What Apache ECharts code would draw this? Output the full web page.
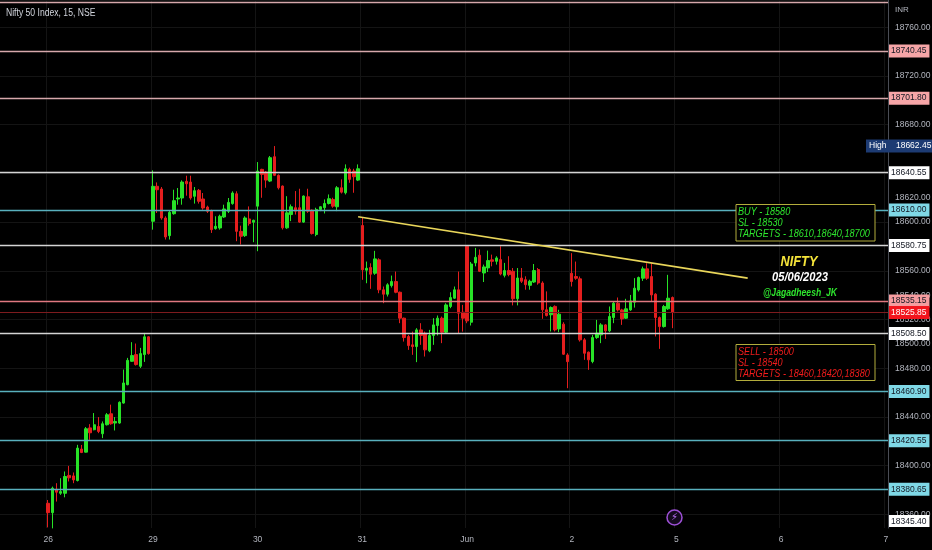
<!DOCTYPE html>
<html>
<head>
<meta charset="utf-8">
<script src="https://cdn.jsdelivr.net/npm/echarts@6/dist/echarts.min.js"></script>
<style>html,body{margin:0;padding:0;background:#000}#chart{width:932px;height:550px}</style>
</head>
<body>
<div id="chart"></div>
<script>
// time scale: day labels, 25 fifteen-minute bars per session
const dayNames = ['26', '29', '30', '31', 'Jun', '2', '5', '6', '7'];
const leadSlots = 11;
const slotsPerDay = 25;

// candles per session: [open, close, low, high]
const day26 = [
  [18369.1, 18361.4, 18349.3, 18371.8], [18361.4, 18381.5, 18348.5, 18382.8], [18380.6, 18378.2, 18370.5, 18385.6],
  [18377.3, 18378.7, 18376.0, 18389.7], [18377.3, 18391.1, 18374.0, 18395.2], [18392.0, 18390.0, 18387.0, 18399.8],
  [18391.6, 18388.3, 18385.6, 18394.4], [18387.8, 18414.4, 18387.0, 18417.1], [18413.6, 18410.8, 18410.3, 18417.0],
  [18411.1, 18430.3, 18410.8, 18431.7], [18431.0, 18427.0, 18421.2, 18434.1], [18429.5, 18433.6, 18429.0, 18443.2],
  [18432.2, 18428.1, 18426.7, 18439.9], [18426.2, 18434.4, 18422.6, 18436.3], [18433.6, 18441.8, 18433.0, 18443.2],
  [18442.6, 18434.4, 18433.6, 18450.1], [18435.0, 18436.3, 18428.9, 18439.9], [18435.0, 18452.0, 18434.4, 18452.8],
  [18451.4, 18467.9, 18450.9, 18478.9], [18466.5, 18486.5, 18466.0, 18488.5], [18485.7, 18490.4, 18485.2, 18501.4],
  [18491.2, 18483.0, 18482.2, 18500.3], [18481.6, 18492.0, 18480.2, 18496.7], [18491.2, 18505.8, 18485.2, 18509.0],
  [18505.8, 18492.0, 18491.2, 18506.3]
];
const day29 = [
  [18600.7, 18629.4, 18593.8, 18642.5], [18629.4, 18626.6, 18607.5, 18632.6], [18627.2, 18603.4, 18602.0, 18628.8],
  [18603.4, 18587.8, 18585.7, 18604.8], [18588.9, 18608.0, 18585.7, 18609.4], [18606.9, 18617.6, 18606.1, 18626.6],
  [18619.0, 18619.8, 18614.3, 18628.0], [18619.8, 18632.9, 18614.3, 18634.3], [18633.5, 18631.5, 18621.7, 18638.1],
  [18632.9, 18619.8, 18618.4, 18638.1], [18621.2, 18625.8, 18615.2, 18628.8], [18626.1, 18617.1, 18615.2, 18627.2],
  [18619.0, 18611.6, 18610.2, 18623.9], [18612.4, 18608.9, 18607.5, 18613.5], [18609.4, 18593.8, 18591.1, 18610.2],
  [18594.7, 18596.6, 18593.8, 18604.8], [18595.2, 18604.8, 18593.8, 18606.1], [18604.2, 18610.8, 18603.4, 18614.3],
  [18608.9, 18616.2, 18607.5, 18619.8], [18615.2, 18623.9, 18614.3, 18625.3], [18623.3, 18592.4, 18584.3, 18625.3],
  [18592.4, 18588.4, 18581.6, 18597.1], [18588.9, 18603.4, 18587.8, 18604.8], [18602.6, 18598.8, 18597.1, 18612.9],
  [18599.9, 18601.5, 18583.5, 18602.0]
];
const day30 = [
  [18613.1, 18641.9, 18576.1, 18649.3], [18643.3, 18639.2, 18620.0, 18643.8], [18641.1, 18634.5, 18628.2, 18641.9],
  [18633.7, 18652.9, 18632.9, 18654.3], [18653.7, 18638.4, 18637.8, 18662.45], [18638.4, 18628.2, 18626.8, 18639.2],
  [18629.6, 18595.3, 18593.9, 18630.1], [18595.3, 18607.6, 18594.5, 18621.3], [18606.2, 18612.6, 18600.8, 18614.5],
  [18611.8, 18609.0, 18606.2, 18625.5], [18611.8, 18600.0, 18599.4, 18627.4], [18600.0, 18621.4, 18599.4, 18621.9],
  [18620.8, 18609.0, 18607.6, 18627.4], [18609.8, 18590.6, 18589.8, 18610.4], [18589.8, 18610.4, 18588.4, 18611.8],
  [18610.4, 18612.6, 18609.0, 18613.1], [18611.8, 18615.3, 18607.1, 18618.6], [18615.3, 18619.2, 18614.5, 18622.7],
  [18618.6, 18613.1, 18611.8, 18620.0], [18612.6, 18628.2, 18609.0, 18629.6], [18628.2, 18624.6, 18623.5, 18635.1],
  [18624.1, 18643.8, 18622.7, 18647.4], [18643.3, 18635.1, 18632.3, 18644.7], [18641.9, 18637.3, 18624.1, 18643.8],
  [18634.5, 18643.8, 18633.7, 18647.4]
];
const day31 = [
  [18597.2, 18560.8, 18552.6, 18603.7], [18560.5, 18562.1, 18549.8, 18567.6], [18562.7, 18557.2, 18545.2, 18566.2],
  [18558.0, 18569.8, 18556.7, 18576.4], [18569.0, 18544.4, 18541.6, 18570.3], [18544.4, 18540.8, 18533.4, 18547.1],
  [18540.8, 18548.5, 18538.9, 18549.8], [18547.9, 18551.2, 18546.3, 18556.1], [18551.2, 18542.4, 18541.6, 18559.4],
  [18542.4, 18521.1, 18517.0, 18543.0], [18521.1, 18505.2, 18501.9, 18521.6], [18506.0, 18498.6, 18495.1, 18507.4],
  [18499.2, 18497.8, 18491.0, 18510.1], [18497.8, 18511.5, 18485.0, 18512.9], [18511.5, 18506.9, 18499.2, 18517.0],
  [18508.8, 18495.1, 18489.6, 18510.1], [18494.3, 18506.9, 18493.2, 18511.5], [18506.9, 18515.6, 18499.2, 18521.1],
  [18515.1, 18521.1, 18506.9, 18523.3], [18521.1, 18509.6, 18500.6, 18522.4], [18509.6, 18532.0, 18508.8, 18533.4],
  [18530.7, 18538.0, 18529.3, 18542.4], [18537.5, 18544.4, 18536.9, 18547.1], [18544.4, 18525.2, 18508.8, 18559.4],
  [18526.0, 18521.1, 18510.1, 18532.0]
];
const jun1 = [
  [18580.2, 18518.9, 18517.0, 18581.0], [18517.8, 18565.6, 18515.1, 18567.3], [18566.5, 18571.1, 18563.7, 18578.8],
  [18572.8, 18559.6, 18559.0, 18577.5], [18558.2, 18563.2, 18550.8, 18565.1], [18562.4, 18568.4, 18559.0, 18576.6],
  [18569.0, 18567.8, 18563.7, 18573.3], [18567.8, 18570.6, 18565.1, 18572.0], [18569.2, 18557.4, 18556.3, 18580.2],
  [18556.3, 18560.2, 18554.6, 18566.5], [18560.2, 18556.9, 18555.5, 18572.0], [18559.6, 18537.1, 18531.6, 18562.3],
  [18537.1, 18554.1, 18531.6, 18562.3], [18554.1, 18551.4, 18550.0, 18562.3], [18552.7, 18548.6, 18544.5, 18555.5],
  [18548.1, 18551.4, 18544.5, 18552.7], [18550.8, 18560.2, 18550.0, 18565.6], [18561.0, 18550.0, 18548.6, 18562.3],
  [18550.0, 18528.0, 18520.6, 18551.4], [18528.0, 18523.3, 18522.5, 18543.1], [18523.9, 18529.9, 18510.2, 18530.8],
  [18530.8, 18511.5, 18510.2, 18531.6], [18512.3, 18524.4, 18509.6, 18528.0], [18516.2, 18491.5, 18490.9, 18517.8],
  [18490.9, 18485.4, 18463.6, 18492.3]
];
const jun2 = [
  [18558.0, 18551.2, 18547.1, 18574.5], [18555.3, 18553.9, 18552.6, 18567.6], [18553.4, 18503.3, 18501.9, 18555.3],
  [18503.3, 18492.3, 18486.9, 18504.7], [18493.2, 18486.9, 18478.7, 18493.7], [18485.5, 18505.2, 18484.1, 18507.4],
  [18505.2, 18508.8, 18504.1, 18519.7], [18507.4, 18515.6, 18500.6, 18517.0], [18515.6, 18510.7, 18504.1, 18516.2],
  [18510.7, 18522.5, 18509.6, 18530.7], [18521.6, 18533.4, 18517.0, 18534.8], [18533.4, 18527.9, 18526.6, 18538.1],
  [18527.9, 18520.5, 18515.6, 18528.8], [18521.1, 18528.8, 18520.5, 18537.0], [18527.9, 18535.3, 18527.1, 18540.2],
  [18534.2, 18545.7, 18529.8, 18554.0], [18544.3, 18554.5, 18543.0, 18555.3], [18553.9, 18561.6, 18551.7, 18563.5],
  [18561.6, 18553.9, 18552.6, 18566.2], [18555.3, 18540.2, 18534.8, 18566.2], [18540.8, 18521.6, 18506.1, 18541.6],
  [18521.6, 18514.2, 18495.9, 18522.5], [18514.2, 18530.7, 18513.4, 18532.0], [18528.8, 18537.5, 18527.9, 18556.7],
  [18538.1, 18525.85, 18512.9, 18538.9]
];

// horizontal levels drawn on the chart
const levelPrices = [18780.2, 18740.45, 18701.80, 18640.55, 18610.00, 18580.75, 18535.15, 18508.50, 18460.90, 18420.55, 18380.65];
const levelKinds = ['pink', 'pink', 'pink', 'white', 'cyan', 'white', 'rose', 'white', 'cyan', 'cyan', 'cyan'];
const lastPrice = 18525.85;
const highPrice = 18662.45;
const lowPrice = 18345.40;

// falling trend line: [slot index, price]
const trendLine = [[85, 18604.4], [178, 18554.0]];

const buyNote = ['BUY - 18580', 'SL - 18530', 'TARGETS - 18610,18640,18700'];
const sellNote = ['SELL - 18500', 'SL - 18540', 'TARGETS - 18460,18420,18380'];

const FONT = "'Liberation Sans', Arial, sans-serif";
const kindStyle = {
  pink:  { line: '#d6a8ab', bg: '#f6a5a7', text: '#131722' },
  rose:  { line: '#e07880', bg: '#f59c9f', text: '#131722' },
  white: { line: '#d4d4d4', bg: '#ffffff', text: '#131722' },
  cyan:  { line: '#58b0bd', bg: '#7fd8e6', text: '#131722' }
};
const HIDDEN = 'rgba(0,0,0,0)';

const categories = [];
const dayLabelAt = {};
for (let i = 0; i < leadSlots; i++) categories.push('pre' + i);
dayNames.forEach(function (d, k) {
  const n = k === dayNames.length - 1 ? 1 : slotsPerDay;
  dayLabelAt[categories.length] = d;
  for (let s = 0; s < n; s++) categories.push(d + '_' + s);
});

const candles = [];
for (let i = 0; i < leadSlots; i++) candles.push(['-', '-', '-', '-']);
[day26, day29, day30, day31, jun1, jun2].forEach(function (d) {
  d.forEach(function (c) { candles.push(c); });
});

// scale labels that sit under a price tag are not drawn
const taggedPrices = levelPrices.concat([highPrice]);
function coveredByTag(v) {
  return taggedPrices.some(function (p) { return Math.abs(p - v) < 3; });
}

function axisTag(bg, color, text) {
  return {
    show: true, position: 'end', distance: 1, formatter: text,
    backgroundColor: bg, color: color, padding: [2, 3, 2, 2],
    fontSize: 8.5, fontFamily: FONT
  };
}

const markLines = levelPrices.map(function (p, i) {
  const st = kindStyle[levelKinds[i]];
  const lbl = axisTag(st.bg, st.text, p.toFixed(2));
  if (i === 0) lbl.show = false;
  return { yAxis: p, lineStyle: { color: st.line, width: 1.3, type: 'solid' }, label: lbl };
});
markLines.push({
  yAxis: lastPrice,
  lineStyle: { color: '#7d1b1e', width: 1, type: 'solid' },
  label: axisTag('#f2141c', '#ffffff', lastPrice.toFixed(2))
});
markLines.push({
  yAxis: highPrice,
  lineStyle: { color: HIDDEN, width: 0 },
  label: Object.assign(axisTag('#1d3b73', '#ffffff', 'High    ' + highPrice.toFixed(2)), { distance: [-22, 0], padding: [2, 3, 2, 3] })
});
markLines.push([
  { coord: [categories[trendLine[0][0]], trendLine[0][1]] },
  { coord: [categories[trendLine[1][0]], trendLine[1][1]] }
].map(function (pt) {
  return Object.assign(pt, { lineStyle: { color: '#e9d65a', width: 1.6, type: 'solid' }, label: { show: false } });
}));

// narrow-looking text: larger font squeezed horizontally
function squeezedText(text, x, y, color, font, sx, align) {
  return {
    type: 'text', x: x, y: y, scaleX: sx, z: 20,
    style: { text: text, fill: color, font: font, align: align || 'left', verticalAlign: 'middle' }
  };
}
function noteLines(lines, x, y0, color) {
  return lines.map(function (t, i) {
    return squeezedText(t, x, y0 + i * 11.2, color, 'italic 11px ' + FONT, 0.83);
  });
}

const chart = echarts.init(document.getElementById('chart'));
chart.setOption({
  animation: false,
  backgroundColor: '#000000',
  grid: { left: 0, right: 44, top: 0, bottom: 22, outerBoundsMode: 'none', containLabel: false },
  xAxis: {
    type: 'category',
    data: categories,
    boundaryGap: true,
    axisLine: { show: false },
    axisTick: { show: false },
    axisLabel: {
      interval: 0, margin: 7, color: '#b2b5be', fontSize: 8.5, fontFamily: FONT,
      formatter: function (v, i) { return dayLabelAt[i] || ''; }
    },
    splitLine: {
      show: true,
      interval: function (i) { return dayLabelAt[i] !== undefined; },
      lineStyle: { color: '#141414' }
    }
  },
  yAxis: {
    type: 'value',
    position: 'right',
    min: 18348.8,
    max: 18782.4,
    splitNumber: 22,
    scale: true,
    axisLine: { show: true, lineStyle: { color: '#4a4d55' } },
    axisTick: { show: false },
    axisLabel: {
      margin: 7, color: '#b2b5be', fontSize: 8.5, fontFamily: FONT,
      formatter: function (v) {
        return Math.abs(v % 20) < 1e-6 && v < 18770 && !coveredByTag(v) ? v.toFixed(2) : '';
      }
    },
    splitLine: { show: true, lineStyle: { color: ['transparent', '#141414'] } }
  },
  series: [{
    type: 'candlestick',
    data: candles,
    barWidth: '70%',
    clip: false,
    itemStyle: {
      color: '#27e227', color0: '#e41e1e',
      borderColor: '#27e227', borderColor0: '#e41e1e', borderWidth: 1
    },
    markLine: { silent: true, symbol: ['none', 'none'], animation: false, data: markLines }
  }]
});

// low-price tag sits at the bottom edge of the price scale
const lowY = Math.min(chart.convertToPixel({ yAxisIndex: 0 }, lowPrice), 527.5);

chart.setOption({
  graphic: [
    squeezedText('Nifty 50 Index, 15, NSE', 6, 13, '#d1d4dc', '10px ' + FONT, 0.86),
    { type: 'text', x: 895, y: 10, z: 20, style: { text: 'INR', fill: '#b2b5be', font: '8px ' + FONT, verticalAlign: 'middle' } },
    { type: 'rect', z: 19, shape: { x: 736, y: 204.5, width: 139, height: 36.5 }, style: { fill: '#000', stroke: '#b3ad3c', lineWidth: 1 } },
    { type: 'rect', z: 19, shape: { x: 736, y: 344.5, width: 139, height: 36 }, style: { fill: '#000', stroke: '#b3ad3c', lineWidth: 1 } },
    { type: 'rect', z: 20, shape: { x: 889, y: lowY - 12.5, width: 40.5, height: 12 }, style: { fill: '#ffffff' } },
    { type: 'text', z: 21, x: 891, y: lowY - 6.3, style: { text: lowPrice.toFixed(2), fill: '#131722', font: '8.5px ' + FONT, verticalAlign: 'middle' } }
  ].concat(noteLines(buyNote, 738, 212, '#2ee52e'))
   .concat(noteLines(sellNote, 738, 352, '#f01c1c'))
   .concat([
    squeezedText('NIFTY', 799, 262, '#f5e43a', 'italic bold 15px ' + FONT, 0.85, 'center'),
    squeezedText('05/06/2023', 800, 277, '#ffffff', 'italic bold 13px ' + FONT, 0.86, 'center'),
    squeezedText('@Jagadheesh_JK', 800, 293, '#2ee52e', 'italic bold 11.5px ' + FONT, 0.75, 'center'),
    { type: 'circle', z: 20, shape: { cx: 674.5, cy: 517.5, r: 7.5 }, style: { fill: '#140a1e', stroke: '#9d50d6', lineWidth: 1.5 } },
    { type: 'text', z: 21, x: 674.5, y: 517.5, style: { text: '\u26A1', fill: '#b66ef2', font: '10px "DejaVu Sans"', align: 'center', verticalAlign: 'middle' } }
  ])
});
</script>
</body>
</html>
